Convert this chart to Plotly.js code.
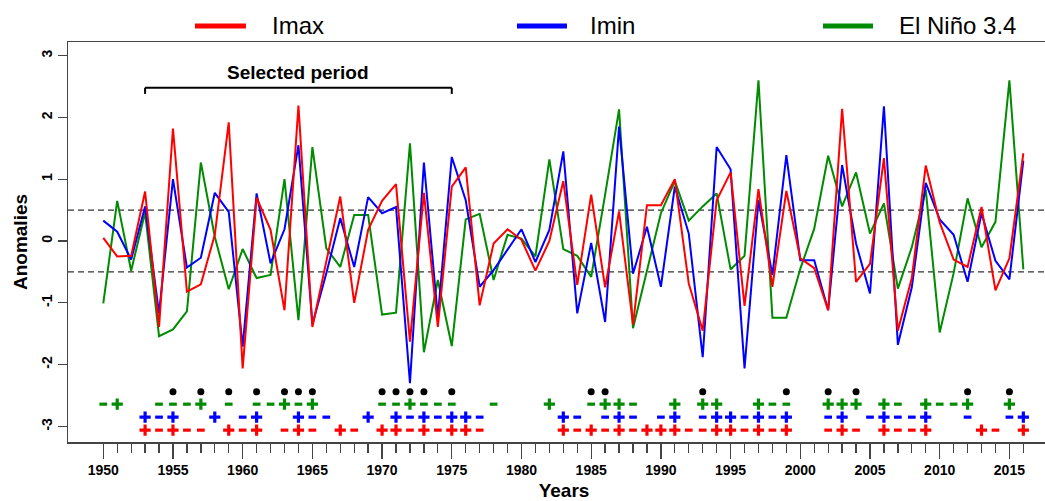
<!DOCTYPE html>
<html>
<head>
<meta charset="utf-8">
<script src="https://cdn.plot.ly/plotly-3.0.1.min.js"></script>
<style>
  html, body { margin: 0; padding: 0; overflow: hidden; background: #fff; }
  #chart { width: 1060px; height: 501px; }
</style>
</head>
<body>
<div id="chart"></div>
<script>
const years = [1950,1951,1952,1953,1954,1955,1956,1957,1958,1959,1960,1961,1962,1963,1964,1965,1966,1967,1968,1969,
  1970,1971,1972,1973,1974,1975,1976,1977,1978,1979,1980,1981,1982,1983,1984,1985,1986,1987,1988,1989,
  1990,1991,1992,1993,1994,1995,1996,1997,1998,1999,2000,2001,2002,2003,2004,2005,2006,2007,2008,2009,
  2010,2011,2012,2013,2014,2015,2016];

const imax = [0.05,-0.25,-0.24,0.80,-1.39,1.82,-0.82,-0.70,0.10,1.92,-2.06,0.70,0.18,-1.12,2.19,-1.39,-0.33,0.72,-1.00,0.18,
  0.65,0.92,-1.63,0.78,-1.39,0.88,1.19,-1.04,-0.04,0.19,0.02,-0.48,0.00,0.97,-0.71,0.75,-0.75,0.48,-1.35,0.58,
  0.58,1.00,-0.69,-1.45,0.66,1.11,-1.05,0.84,-0.74,0.81,-0.28,-0.44,-1.12,2.14,-0.66,-0.37,1.34,-1.45,-0.60,1.22,
  0.30,-0.30,-0.42,0.55,-0.80,-0.28,1.42];

const imin = [0.33,0.15,-0.30,0.56,-1.17,1.00,-0.43,-0.27,0.78,0.47,-1.71,0.77,-0.36,0.19,1.55,-1.35,-0.52,0.37,-0.42,0.71,
  0.45,0.55,-2.30,1.27,-1.23,1.36,0.66,-0.74,-0.47,-0.15,0.19,-0.34,0.18,1.45,-1.17,-0.03,-1.31,1.85,-0.53,0.23,
  -0.74,0.88,0.12,-1.88,1.52,1.16,-2.06,0.66,-0.55,1.39,-0.31,-0.31,-1.12,1.23,-0.04,-0.85,2.18,-1.68,-0.75,0.94,
  0.35,0.10,-0.66,0.45,-0.32,-0.62,1.30];

const nino34 = [-1.01,0.65,-0.48,0.46,-1.54,-1.43,-1.14,1.27,0.07,-0.78,-0.13,-0.60,-0.55,1.00,-1.28,1.52,-0.12,-0.42,0.42,0.42,
  -1.19,-1.16,1.58,-1.80,-0.63,-1.70,0.35,0.44,-0.63,0.10,0.04,-0.25,1.32,-0.13,-0.24,-0.58,0.75,2.13,-1.41,-0.47,
  0.45,0.97,0.33,0.56,0.77,-0.46,-0.24,2.60,-1.24,-1.24,-0.45,0.20,1.38,0.56,1.11,0.12,0.61,-0.77,-0.10,0.83,
  -1.48,-0.52,0.69,-0.10,0.31,2.60,-0.46];

// sign markers (years with anomaly above +0.5 / below -0.5)
const imaxPlus  = [1953,1955,1959,1961,1964,1967,1970,1971,1973,1975,1976,1983,1985,1987,1989,1990,1991,1994,1995,1997,1999,2003,2006,2009,2013,2016];
const imaxMinus = [1954,1956,1957,1960,1963,1965,1968,1972,1974,1977,1984,1986,1988,1992,1993,1996,1998,2002,2004,2007,2008,2014];
const iminPlus  = [1953,1955,1958,1961,1964,1969,1971,1973,1975,1976,1983,1987,1991,1994,1995,1997,1999,2003,2006,2009,2016];
const iminMinus = [1954,1960,1965,1966,1972,1974,1977,1984,1986,1988,1990,1993,1996,1998,2002,2005,2007,2008,2012,2015];
const ninoPlus  = [1951,1957,1963,1965,1972,1982,1986,1987,1991,1993,1994,1997,2002,2003,2004,2006,2009,2012,2015];
const ninoMinus = [1950,1954,1955,1956,1959,1961,1962,1964,1970,1971,1973,1974,1975,1978,1985,1988,1998,1999,2007,2010,2011];
const dotYears  = [1955,1957,1959,1961,1963,1964,1965,1970,1971,1972,1973,1975,1985,1986,1993,1999,2002,2004,2012,2015];

const selectedPeriod = [1953, 1975];
const thresholds = [0.5, -0.5];
const xTicks = [1950,1955,1960,1965,1970,1975,1980,1985,1990,1995,2000,2005,2010,2015];
const yTicks = [-3,-2,-1,0,1,2,3];

const RED = '#FF0000', BLUE = '#0000FF', GREEN = '#008B00';
const FONT = 'Liberation Sans, Arial, Helvetica, sans-serif';

// row levels for the sign markers (layout constants)
const ROW_DOT = -2.44, ROW_NINO = -2.64, ROW_IMIN = -2.85, ROW_IMAX = -3.06;

function line(y, color, name) {
  return { x: years, y: y, type: 'scatter', mode: 'lines', name: name,
           line: { color: color, width: 2 }, showlegend: false, hoverinfo: 'x+y' };
}
function signs(yrs, level, color, plus) {
  return { x: yrs, y: yrs.map(() => level), type: 'scatter', mode: 'markers', showlegend: false,
           hoverinfo: 'x',
           marker: plus
             ? { symbol: 'cross-thin', size: 8, color: color, line: { color: color, width: 3.2 } }
             : { symbol: 'line-ew', size: 5.5, color: color, line: { color: color, width: 3.2 } } };
}

const traces = [
  line(nino34, GREEN, 'El Niño 3.4'),
  line(imin, BLUE, 'Imin'),
  line(imax, RED, 'Imax'),
  signs(ninoPlus, ROW_NINO, GREEN, true),
  signs(ninoMinus, ROW_NINO, GREEN, false),
  signs(iminPlus, ROW_IMIN, BLUE, true),
  signs(iminMinus, ROW_IMIN, BLUE, false),
  signs(imaxPlus, ROW_IMAX, RED, true),
  signs(imaxMinus, ROW_IMAX, RED, false),
  { x: dotYears, y: dotYears.map(() => ROW_DOT), type: 'scatter', mode: 'markers', showlegend: false,
    hoverinfo: 'x', marker: { symbol: 'circle', size: 7, color: '#000' } }
];

const shapes = thresholds.map(t => ({
  type: 'line', xref: 'paper', x0: 0, x1: 1, yref: 'y', y0: t, y1: t,
  line: { color: '#333', width: 1.3, dash: '6px,4px' }, layer: 'below'
}));
// selected period bracket
shapes.push({ type: 'line', xref: 'x', yref: 'y', x0: selectedPeriod[0], x1: selectedPeriod[1], y0: 2.48, y1: 2.48,
  line: { color: '#000', width: 2 } });
shapes.push({ type: 'line', xref: 'x', yref: 'y', x0: selectedPeriod[0], x1: selectedPeriod[0], y0: 2.48, y1: 2.38,
  line: { color: '#000', width: 2 } });
shapes.push({ type: 'line', xref: 'x', yref: 'y', x0: selectedPeriod[1], x1: selectedPeriod[1], y0: 2.48, y1: 2.38,
  line: { color: '#000', width: 2 } });

// legend (drawn above the plot box)
const legendItems = [
  { name: 'Imax', color: RED, x0: 0.128, x1: 0.1794, tx: 0.2036 },
  { name: 'Imin', color: BLUE, x0: 0.4526, x1: 0.503, tx: 0.5242 },
  { name: 'El Niño 3.4', color: GREEN, x0: 0.7611, x1: 0.8115, tx: 0.8357 }
];
const annotations = [];
legendItems.forEach(it => {
  shapes.push({ type: 'line', xref: 'paper', yref: 'paper', x0: it.x0, x1: it.x1, y0: 1.04, y1: 1.04,
    line: { color: it.color, width: 5 } });
  annotations.push({ xref: 'paper', yref: 'paper', x: it.tx, y: 1.04, xanchor: 'left', yanchor: 'middle',
    text: it.name, showarrow: false, font: { family: FONT, size: 24, color: '#000' } });
});
annotations.push({ xref: 'x', yref: 'y', x: (selectedPeriod[0] + selectedPeriod[1]) / 2, y: 2.72,
  text: 'Selected period', showarrow: false, font: { family: FONT, size: 19, color: '#000', weight: 'bold' } });

const layout = {
  width: 1060, height: 501,
  margin: { l: 68, r: 0, t: 42, b: 59 },
  paper_bgcolor: '#fff', plot_bgcolor: '#fff',
  font: { family: FONT, color: '#000' },
  showlegend: false,
  xaxis: {
    range: [1947.47, 2018.63], showgrid: false, zeroline: false,
    showline: true, mirror: true, linecolor: '#444', linewidth: 1.5,
    tickmode: 'array', tickvals: xTicks, ticktext: xTicks.map(String),
    ticks: 'outside', ticklen: 15, tickwidth: 1.3, tickcolor: '#444',
    tickfont: { family: FONT, size: 14, color: '#000', weight: 'bold' },
    minor: { tickmode: 'array', tickvals: years, ticks: 'outside', ticklen: 9, tickwidth: 1.3, tickcolor: '#444' },
    title: { text: 'Years', standoff: 12, font: { family: FONT, size: 19, color: '#000', weight: 'bold' } }
  },
  yaxis: {
    range: [-3.252, 3.22], showgrid: false, zeroline: false,
    showline: true, mirror: true, linecolor: '#444', linewidth: 1.5,
    tickmode: 'array', tickvals: yTicks, ticktext: yTicks.map(String),
    ticks: 'outside', ticklen: 9, tickwidth: 1.3, tickcolor: '#444', tickangle: -90,
    tickfont: { family: FONT, size: 14, color: '#000', weight: 'bold' },
    title: { text: 'Anomalies', standoff: 6, font: { family: FONT, size: 19, color: '#000', weight: 'bold' } }
  },
  shapes: shapes,
  annotations: annotations
};

Plotly.newPlot('chart', traces, layout, { displayModeBar: false, staticPlot: true });
</script>
</body>
</html>
